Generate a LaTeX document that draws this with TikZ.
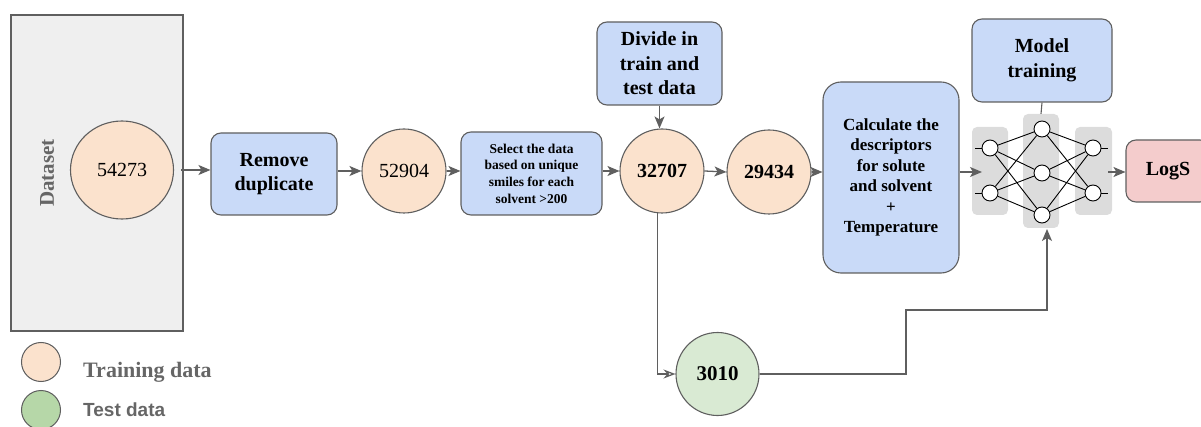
\documentclass[tikz,border=0pt]{standalone}
\usepackage{fontspec}
\setmainfont{Liberation Serif}
\newfontfamily\sansb{Liberation Sans}
\usetikzlibrary{shapes.geometric,arrows.meta,calc}
\definecolor{boxblue}{HTML}{C9DAF8}
\definecolor{peach}{HTML}{FBE2CD}
\definecolor{testgreen}{HTML}{D9EAD3}
\definecolor{leggreen}{HTML}{B6D7A8}
\definecolor{logred}{HTML}{F4CCCC}
\definecolor{panel}{HTML}{EFEFEF}
\definecolor{edge}{HTML}{5F5F5F}
\definecolor{layer}{HTML}{DCDCDC}
\definecolor{legtext}{HTML}{666666}
\tikzset{
  arr/.style={draw=edge, line width=1.3pt, -{Stealth[length=12pt,width=10pt,inset=3pt]}},
  stepbox/.style={draw=edge, line width=1.1pt, fill=boxblue, rounded corners=10pt, align=center, font=\bfseries\fontsize{20}{24.5}\selectfont, inner sep=0pt},
  datac/.style={circle, draw=edge, line width=1.1pt, fill=peach, minimum size=84pt, inner sep=0pt, font=\fontsize{20}{22}\selectfont},
  layerbox/.style={fill=layer, rounded corners=5pt, draw=none, inner sep=0pt},
  neuron/.style={circle, draw=black, line width=0.9pt, fill=white, minimum size=16pt, inner sep=0pt},
  nnline/.style={draw=black, line width=0.9pt},
}
\begin{document}
\begin{tikzpicture}[x=1pt,y=-1pt]
\useasboundingbox (0,0) rectangle (1201,427);
% dataset panel
\node[draw=edge, line width=1.1pt, fill=panel, minimum width=172pt, minimum height=316pt, inner sep=0pt] (panel) at (97,173) {};
\node[rotate=90, font=\bfseries\fontsize{21}{22}\selectfont, text=legtext] (dslabel) at (47,173) {Dataset};
\node[ellipse, draw=edge, line width=1.1pt, fill=peach, minimum width=103pt, minimum height=98pt, inner sep=0pt, font=\fontsize{20}{22}\selectfont] (n54273) at (122,170) {54273};
% steps
\node[stepbox, minimum width=126pt, minimum height=82pt] (remove) at (274,174) {Remove\\duplicate};
\node[datac] (n52904) at (404,171) {52904};
\node[stepbox, minimum width=141pt, minimum height=83pt, font=\bfseries\fontsize{13.5}{16.7}\selectfont] (select) at (531.5,173.5) {Select the data\\based on unique\\smiles for each\\solvent >200};
\node[datac, font=\bfseries\fontsize{20}{22}\selectfont] (n32707) at (662,171) {32707};
\node[stepbox, minimum width=125pt, minimum height=83pt] (divide) at (659.5,63.5) {Divide in\\train and\\test data};
\node[datac, font=\bfseries\fontsize{20}{22}\selectfont] (n29434) at (769,172) {29434};
\node[stepbox, minimum width=136pt, minimum height=191pt, rounded corners=18pt, font=\bfseries\fontsize{17}{20.4}\selectfont] (calc) at (891,177.5) {Calculate the\\descriptors\\for solute\\and solvent\\+\\Temperature};
% neural net
\node[layerbox, minimum width=36pt, minimum height=88pt] (L1) at (990,171) {};
\node[layerbox, minimum width=36pt, minimum height=114pt] (L2) at (1041,171) {};
\node[layerbox, minimum width=37pt, minimum height=88pt] (L3) at (1093.5,171) {};
\node[neuron] (a1) at (990,148) {};
\node[neuron] (a2) at (990,193) {};
\node[neuron] (b1) at (1042,129) {};
\node[neuron] (b2) at (1042,173) {};
\node[neuron] (b3) at (1042,215) {};
\node[neuron] (c1) at (1093,148) {};
\node[neuron] (c2) at (1093,193) {};
\foreach \a in {a1,a2}{\foreach \b in {b1,b2,b3}{\draw[nnline] (\a) -- (\b);}}
\foreach \b in {b1,b2,b3}{\foreach \c in {c1,c2}{\draw[nnline] (\b) -- (\c);}}
\foreach \a in {a1,a2}{\draw[nnline] (\a.west) -- ++(-7,0);}
\foreach \c in {c1,c2}{\draw[nnline] (\c.east) -- ++(7,0);}
\node[stepbox, minimum width=140pt, minimum height=83pt] (model) at (1042,60.5) {Model\\training};
\draw[draw=edge, line width=1.1pt] (model.south) -- (L2.north);
\node[draw=edge, line width=1.1pt, fill=logred, rounded corners=10pt, minimum width=84pt, minimum height=62pt, inner sep=0pt, font=\bfseries\fontsize{20}{22}\selectfont] (logs) at (1168,171) {LogS};
% test
\node[datac, fill=testgreen, font=\bfseries\fontsize{21}{22}\selectfont, minimum size=83pt] (n3010) at (717.5,374) {3010};
% arrows
\draw[arr, shorten <=7pt] (n54273.east) -- (remove.west |- n54273.east);
\draw[arr] (remove.east |- n52904.west) -- (n52904.west);
\draw[arr] (n52904.east) -- (select.west |- n52904.east);
\draw[arr] (select.east |- n32707.west) -- (n32707.west);
\draw[arr] (divide.south) -- (divide.south |- n32707.north);
\draw[arr] (n32707.east) -- (n29434.west);
\draw[arr] (n29434.east) -- (calc.west |- n29434.east);
\coordinate (nnleft) at (982,172);
\draw[arr] (calc.east |- nnleft) -- (nnleft);
\coordinate (nnright) at (1108,172);
\draw[arr] (nnright) -- (logs.west |- nnright);
\coordinate (bend) at (906,310);
\coordinate (nnin) at (1047,229);
\draw[arr, -{Stealth[length=12pt,width=9pt,inset=4pt,open]}] (n32707.264) |- (n3010.west);
\draw[arr] (n3010.east) -| (bend) -| (nnin);
% legend
\node[circle, draw=edge, line width=1pt, fill=peach, minimum size=39pt, inner sep=0pt] (legtrain) at (41,362) {};
\node[anchor=west, inner sep=0pt, font=\bfseries\fontsize{22}{24}\selectfont, text=legtext] (legtraintxt) at (83,372) {Training data};
\node[circle, draw=edge, line width=1pt, fill=leggreen, minimum size=39pt, inner sep=0pt] (legtest) at (41,410) {};
\node[anchor=west, inner sep=0pt, font=\sansb\bfseries\fontsize{19}{22}\selectfont, text=legtext] (legtesttxt) at (83,410) {Test data};
\end{tikzpicture}
\end{document}
